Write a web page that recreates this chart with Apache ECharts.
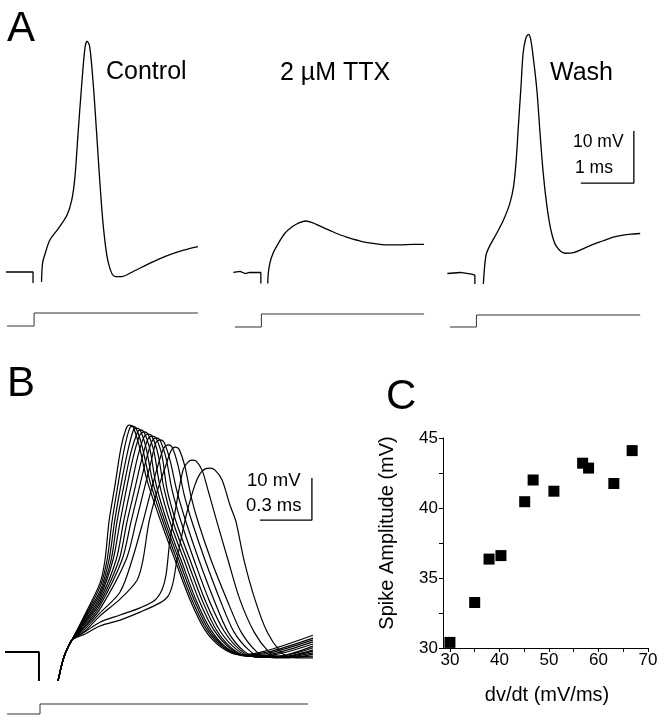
<!DOCTYPE html>
<html><head><meta charset="utf-8">
<script src="https://cdn.jsdelivr.net/npm/echarts@6/dist/echarts.min.js"></script>
<style>html,body{margin:0;padding:0;background:#fff}#c{width:665px;height:720px}</style>
</head><body><div id="c"></div>
<script>
// ---------- Panel A (time in ms, membrane potential in mV relative to rest) ----------
const ctrlPre = [[0,0],[0.51,0],[0.51,-2.1]];
const ctrlSpike = [[0.67,-1.9],[0.69,1.7],[0.74,3.6],[0.83,6.2],[0.99,8.4],[1.15,10.9],[1.24,13.8],[1.30,18.2],[1.36,26.7],[1.43,36.3],[1.49,43.1],[1.53,44.4],[1.58,43.3],[1.65,35.6],[1.71,26.7],[1.77,17.4],[1.84,8.4],[1.93,1.8],[2.06,-0.9],[2.18,-0.9],[2.40,0.1],[2.72,1.7],[3.03,3.1],[3.35,4.2],[3.62,4.9]];
const ttxPre = [[0,0.1],[0.13,0.3],[0.22,-0.1],[0.31,0.1],[0.52,0.1],[0.52,-2.0]];
const ttxSpike = [[0.65,-2.0],[0.66,-0.1],[0.69,1.9],[0.75,3.8],[0.85,5.7],[0.97,7.6],[1.11,8.9],[1.25,9.7],[1.37,10.0],[1.49,9.7],[1.64,9.0],[1.82,8.2],[1.95,7.6],[2.14,6.9],[2.26,6.5],[2.45,6.0],[2.64,5.7],[2.89,5.4],[3.14,5.4],[3.40,5.5],[3.60,5.5]];
const washPre = [[0,-0.1],[0.24,0.1],[0.46,-0.2],[0.52,-0.4],[0.52,-2.1]];
const washSpike = [[0.68,-2.1],[0.71,1.9],[0.74,3.8],[0.81,5.4],[0.93,7.6],[1.06,10.2],[1.18,13.4],[1.25,16.6],[1.30,21.7],[1.34,28.1],[1.39,35.8],[1.43,42.2],[1.48,45.1],[1.53,45.9],[1.57,45.1],[1.62,41.6],[1.69,35.2],[1.75,26.9],[1.81,19.2],[1.89,12.1],[1.97,7.6],[2.06,5.1],[2.22,3.8],[2.38,3.9],[2.57,4.7],[2.75,5.5],[2.94,6.2],[3.13,6.9],[3.32,7.3],[3.51,7.5],[3.64,7.6]];
const stimCtrl = [[0.02,0],[0.53,0],[0.53,1],[3.62,1]];
const stimTTX = [[0.03,0],[0.53,0],[0.53,1],[3.60,1]];
const stimWash = [[0.05,0],[0.55,0],[0.55,1],[3.64,1]];
const scaleBarA = [[2.52,17.3],[3.52,17.3],[3.52,27.3]]; // 1 ms, 10 mV

// ---------- Panel B ----------
const bPre = [[0,0],[0.196,0],[0.196,-6.9]];
const bOnset = [[0.306,-6.9],[0.323,-3.8],[0.340,-1.2],[0.364,1.2],[0.387,2.9]];
const bT1 = [[0.462,9.0],[0.548,16.4],[0.577,21.9],[0.600,31.0],[0.635,39.8],[0.669,48.6],[0.698,53.1],[0.716,54.0],[0.739,53.6],[0.773,49.3],[0.819,41.0],[0.900,31.0],[0.981,21.9],[1.068,12.4],[1.154,5.2],[1.252,1.0],[1.356,-0.7],[1.500,0.2],[1.777,4.0]];
const bT2 = [[0.462,8.6],[0.548,15.5],[0.589,21.9],[0.617,31.0],[0.652,39.8],[0.687,48.1],[0.716,52.9],[0.733,53.8],[0.756,53.3],[0.791,49.0],[0.837,40.5],[0.912,31.0],[0.992,21.9],[1.079,12.4],[1.166,5.2],[1.264,1.0],[1.368,-0.7],[1.518,0],[1.777,3.3]];
const bT3 = [[0.462,8.3],[0.548,14.5],[0.600,21.9],[0.632,31.0],[0.669,39.8],[0.710,48.1],[0.739,52.6],[0.756,53.3],[0.779,52.9],[0.814,48.6],[0.854,40.2],[0.923,31.0],[1.004,21.9],[1.091,12.4],[1.177,5.2],[1.275,1.0],[1.379,-0.7],[1.529,-0.2],[1.777,2.9]];
const bT4 = [[0.462,7.9],[0.548,13.8],[0.612,21.9],[0.646,31.0],[0.687,39.8],[0.727,47.6],[0.762,52.1],[0.779,52.9],[0.802,52.4],[0.837,48.1],[0.871,40.0],[0.935,31.0],[1.016,21.9],[1.102,12.4],[1.189,5.2],[1.287,0.7],[1.391,-1.0],[1.541,-0.5],[1.777,2.4]];
const bT5 = [[0.462,7.4],[0.548,13.1],[0.623,21.9],[0.664,31.0],[0.704,39.5],[0.744,47.1],[0.779,51.7],[0.802,52.4],[0.825,51.9],[0.860,47.6],[0.894,39.5],[0.952,31.0],[1.033,21.9],[1.119,12.4],[1.206,5.2],[1.304,0.7],[1.402,-1.0],[1.552,-0.7],[1.777,1.9]];
const bT6 = [[0.462,7.1],[0.548,12.4],[0.641,21.9],[0.684,31.0],[0.727,39.3],[0.767,46.7],[0.802,51.2],[0.825,51.9],[0.848,51.4],[0.883,47.1],[0.917,39.0],[0.969,31.0],[1.050,21.9],[1.137,12.4],[1.223,5.0],[1.321,0.5],[1.414,-1.0],[1.564,-1.0],[1.777,1.4]];
const bT7 = [[0.462,6.7],[0.548,11.7],[0.658,21.9],[0.704,31.0],[0.750,39.0],[0.791,46.2],[0.825,50.7],[0.848,51.4],[0.871,51.0],[0.906,46.7],[0.935,38.8],[0.987,31.0],[1.068,21.9],[1.154,12.4],[1.241,5.0],[1.339,0.5],[1.425,-1.0],[1.575,-1.0],[1.777,1.0]];
const bT8 = [[0.462,6.2],[0.548,11.0],[0.675,21.9],[0.727,31.0],[0.773,38.8],[0.814,45.7],[0.848,50.2],[0.871,51.0],[0.894,50.5],[0.929,46.2],[0.964,38.6],[1.016,31.0],[1.091,21.9],[1.177,12.4],[1.264,5.0],[1.356,0.5],[1.443,-1.2],[1.587,-1.2],[1.777,0.5]];
const bT9 = [[0.462,6.0],[0.548,10.2],[0.698,21.9],[0.756,31.0],[0.802,38.6],[0.842,45.2],[0.871,49.8],[0.894,50.5],[0.917,50.0],[0.952,45.7],[0.992,38.3],[1.044,31.0],[1.119,21.9],[1.206,12.4],[1.287,4.8],[1.379,0.2],[1.460,-1.2],[1.598,-1.2],[1.777,0.2]];
const bT10 = [[0.462,5.5],[0.548,9.3],[0.664,14.3],[0.733,21.9],[0.796,31.0],[0.842,38.3],[0.883,44.5],[0.917,48.6],[0.941,49.3],[0.964,48.8],[0.998,44.5],[1.033,37.6],[1.079,31.0],[1.154,21.9],[1.241,12.4],[1.321,4.8],[1.414,0.2],[1.483,-1.2],[1.616,-1.2],[1.777,-0.2]];
const bT11 = [[0.462,5.0],[0.548,8.6],[0.664,12.6],[0.762,17.1],[0.796,21.9],[0.831,31.0],[0.877,38.1],[0.923,43.8],[0.958,47.9],[0.981,48.8],[1.004,48.3],[1.039,44.0],[1.073,37.1],[1.114,31.0],[1.189,21.9],[1.281,12.4],[1.362,4.8],[1.448,0.2],[1.506,-1.2],[1.633,-1.4],[1.777,-0.5]];
const bT12 = [[0.462,4.8],[0.548,7.1],[0.664,8.8],[0.779,10.5],[0.866,12.4],[0.906,14.8],[0.929,18.3],[0.952,26.7],[0.981,33.3],[1.027,43.3],[1.056,45.2],[1.079,45.7],[1.102,45.5],[1.137,43.3],[1.171,38.6],[1.223,31.0],[1.287,21.9],[1.356,12.4],[1.437,4.8],[1.518,0.2],[1.575,-1.2],[1.673,-1.2],[1.777,-1.0]];
const bT13 = [[0.462,4.3],[0.548,6.2],[0.664,7.6],[0.779,9.5],[0.894,11.7],[0.941,13.3],[0.969,16.4],[0.992,21.9],[1.021,27.9],[1.050,33.3],[1.096,39.8],[1.125,42.4],[1.154,43.6],[1.183,43.8],[1.212,43.3],[1.252,41.0],[1.298,35.0],[1.333,31.0],[1.379,21.9],[1.443,12.4],[1.512,4.8],[1.587,0.2],[1.645,-1.2],[1.731,-1.4],[1.777,-1.4]];
const stimB = [[0.012,0],[0.202,0],[0.202,1],[1.749,1]];
const scaleBarB = [[1.471,31.4],[1.771,31.4],[1.771,41.4]]; // 0.3 ms, 10 mV

// ---------- Panel C ----------
const dvdt = [30.0, 35.0, 37.9, 40.3, 45.1, 46.8, 51.0, 56.8, 58.0, 63.1, 66.8];
const spikeAmp = [30.4, 33.25, 36.35, 36.6, 40.45, 42.0, 41.2, 43.2, 42.85, 41.75, 44.1];
const xTicksC = [30, 35, 40, 45, 50, 55, 60, 65, 70];
const xLabelsC = [30, 40, 50, 60, 70];
const yTicksC = [30, 32.5, 35, 37.5, 40, 42.5, 45];
const yLabelsC = [30, 35, 40, 45];

const FONT = 'Liberation Sans, Arial, Helvetica, sans-serif';
const chart = echarts.init(document.getElementById('c'), null, {renderer: 'canvas'});

const grids = [
  {left: 6, top: 12, width: 212, height: 312},      // 0 A control
  {left: 233.3, top: 13, width: 212, height: 312},  // 1 A TTX
  {left: 447.3, top: 13, width: 212, height: 312},  // 2 A wash
  {left: 6, top: 313, width: 212, height: 13},      // 3 stim control
  {left: 233.3, top: 314, width: 212, height: 13},  // 4 stim TTX
  {left: 447.3, top: 315, width: 212, height: 12},  // 5 stim wash
  {left: 5, top: 400, width: 346.6, height: 294},   // 6 B traces
  {left: 5, top: 704, width: 346.6, height: 10},    // 7 B stim
  {left: 443, top: 438, width: 205, height: 210}    // 8 C
];
const hid = {show: false};
const xAxes = [], yAxes = [];
for (let i = 0; i < 3; i++) {
  xAxes.push(Object.assign({type: 'value', gridIndex: i, min: 0, max: 4}, hid));
  yAxes.push(Object.assign({type: 'value', gridIndex: i, min: -10, max: 50}, hid));
}
for (let i = 3; i < 6; i++) {
  xAxes.push(Object.assign({type: 'value', gridIndex: i, min: 0, max: 4}, hid));
  yAxes.push(Object.assign({type: 'value', gridIndex: i, min: 0, max: 1}, hid));
}
xAxes.push(Object.assign({type: 'value', gridIndex: 6, min: 0, max: 2}, hid));
yAxes.push(Object.assign({type: 'value', gridIndex: 6, min: -10, max: 60}, hid));
xAxes.push(Object.assign({type: 'value', gridIndex: 7, min: 0, max: 2}, hid));
yAxes.push(Object.assign({type: 'value', gridIndex: 7, min: 0, max: 1}, hid));
const axisStyle = {
  axisLine: {show: true, onZero: false, lineStyle: {color: '#000', width: 1}},
  splitLine: {show: false}
};
xAxes.push(Object.assign({
  type: 'value', gridIndex: 8, min: 28.6, max: 70,
  axisTick: {show: true, inside: false, length: 4, lineStyle: {color: '#000'}, customValues: xTicksC},
  axisLabel: {color: '#000', fontSize: 17, fontFamily: FONT, margin: 4, customValues: xLabelsC}
}, axisStyle));
yAxes.push(Object.assign({
  type: 'value', gridIndex: 8, min: 30, max: 45,
  axisTick: {show: true, inside: false, length: 4, lineStyle: {color: '#000'}, customValues: yTicksC},
  axisLabel: {color: '#000', fontSize: 17, fontFamily: FONT, margin: 5, customValues: yLabelsC}
}, axisStyle));

function line(data, idx, opts) {
  return Object.assign({
    type: 'line', xAxisIndex: idx, yAxisIndex: idx, data: data,
    showSymbol: false, symbol: 'none', clip: false, silent: true,
    lineStyle: {color: '#000', width: 1.3}
  }, opts || {});
}
const smoothOpt = {smooth: 0.3};
const stimStyle = {lineStyle: {color: '#333', width: 1}};

const series = [
  line(ctrlPre, 0), line(ctrlSpike, 0, smoothOpt),
  line(ttxPre, 1), line(ttxSpike, 1, smoothOpt),
  line(washPre, 2), line(washSpike, 2, smoothOpt),
  line(scaleBarA, 2, {lineStyle: {color: '#000', width: 1.3}}),
  line(stimCtrl, 3, stimStyle), line(stimTTX, 4, stimStyle), line(stimWash, 5, stimStyle),
  line(bPre, 6, {lineStyle: {color: '#000', width: 2}}),
  line(scaleBarB, 6, {lineStyle: {color: '#000', width: 1.3}}),
  line(stimB, 7, stimStyle)
];
[bT1, bT2, bT3, bT4, bT5, bT6, bT7, bT8, bT9, bT10, bT11, bT12, bT13].forEach(function (t) {
  series.push(line(bOnset.concat(t), 6, Object.assign({lineStyle: {color: '#000', width: 1.2}}, smoothOpt)));
});
series.push({
  type: 'scatter', xAxisIndex: 8, yAxisIndex: 8, symbol: 'rect', symbolSize: 11,
  itemStyle: {color: '#000', opacity: 1}, silent: true,
  data: dvdt.map(function (x, i) { return [x, spikeAmp[i]]; })
});

function txt(text, x, y, size, opts) {
  return Object.assign({
    type: 'text', x: x, y: y, silent: true,
    style: Object.assign({text: text, fill: '#000', fontSize: size, fontFamily: FONT, align: 'left', verticalAlign: 'middle'}, (opts && opts.style) || {})
  }, (opts && opts.el) || {});
}
const graphic = [
  txt('A', 7, 29, 42),
  txt('B', 7, 384, 42),
  txt('C', 386, 397, 42),
  txt('Control', 106, 72, 25),
  txt('2 µM TTX', 280, 73, 25),
  txt('Wash', 550, 73, 25),
  txt('10 mV', 573, 142, 17.5),
  txt('1 ms', 575, 168, 17.5),
  txt('10 mV', 247, 481, 18.5),
  txt('0.3 ms', 246, 506, 18.5),
  txt('dv/dt (mV/ms)', 547, 695, 20, {style: {align: 'center'}}),
  txt('Spike Amplitude (mV)', 387, 533, 20, {style: {align: 'center'}, el: {rotation: Math.PI / 2}})
];

chart.setOption({
  animation: false,
  backgroundColor: '#fff',
  grid: grids,
  xAxis: xAxes,
  yAxis: yAxes,
  series: series,
  graphic: graphic
});
</script></body></html>
